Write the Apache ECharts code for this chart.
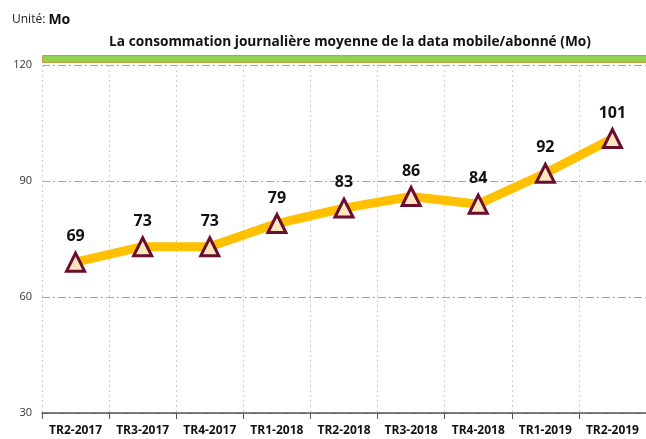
<!DOCTYPE html>
<html><head><meta charset="utf-8">
<script src="https://cdn.jsdelivr.net/npm/echarts@6/dist/echarts.min.js"></script>
<style>html,body{margin:0;padding:0;background:#fff}#c{width:646px;height:439px}</style>
</head><body><div id="c"></div>
<script>
const categories = ['TR2-2017','TR3-2017','TR4-2017','TR1-2018','TR2-2018','TR3-2018','TR4-2018','TR1-2019','TR2-2019'];
const values = [69, 73, 73, 79, 83, 86, 84, 92, 101];
const yTicks = [30, 60, 90, 120];
const titleText = 'La consommation journalière moyenne de la data mobile/abonné (Mo)';

const chart = echarts.init(document.getElementById('c'));
const font = 'Open Sans';
chart.setOption({
  animation: false,
  textStyle: { fontFamily: font },
  title: [{
    text: '{a|Unité: }{b|Mo}',
    left: 7, top: 8,
    textStyle: { rich: { a: { fontFamily: font, fontSize: 12, fontWeight: 'normal', color: '#222' }, b: { fontFamily: font, fontSize: 14, fontWeight: 'bold', color: '#111' } } }
  }, {
    text: titleText,
    left: 345, textAlign: 'center', top: 30,
    textStyle: { fontFamily: font, fontSize: 13.7, fontWeight: 'bold', color: '#111' }
  }],
  graphic: [{
    type: 'rect', left: 42, top: 55, shape: { width: 604, height: 7 },
    style: { fill: '#92D050', stroke: '#C89B3C', lineWidth: 1 }
  }],
  grid: { left: 42, right: -4, top: 65, bottom: 26 },
  xAxis: {
    type: 'category', data: categories, boundaryGap: true,
    axisLine: { lineStyle: { color: '#555', width: 1.5 } },
    axisTick: { show: true, length: 6, lineStyle: { color: '#555' } },
    axisLabel: { fontFamily: font, fontSize: 12, fontWeight: 'bold', color: '#111', margin: 12, interval: 0 },
    splitLine: { show: true, lineStyle: { color: '#cfcfcf', type: [2, 3] } }
  },
  yAxis: {
    type: 'value', min: 30, max: 120, interval: 30,
    axisLine: { show: false }, axisTick: { show: false },
    axisLabel: { fontFamily: font, fontSize: 11, color: '#333', margin: 10,
      formatter: v => yTicks.includes(v) ? String(v) : '' },
    splitLine: { lineStyle: { color: '#7FB3B5', type: [8, 3, 2, 3], width: 1 } }
  },
  series: [{
    type: 'line', data: values,
    lineStyle: { color: '#FFC000', width: 9 },
    symbol: 'triangle', symbolSize: 18,
    itemStyle: { color: '#FCE6BE', borderColor: '#6B0D2E', borderWidth: 3 },
    label: { show: true, position: 'top', distance: 7, fontFamily: font, fontSize: 16, fontWeight: 'bold', color: '#111' },
    z: 3
  }]
});
</script></body></html>
